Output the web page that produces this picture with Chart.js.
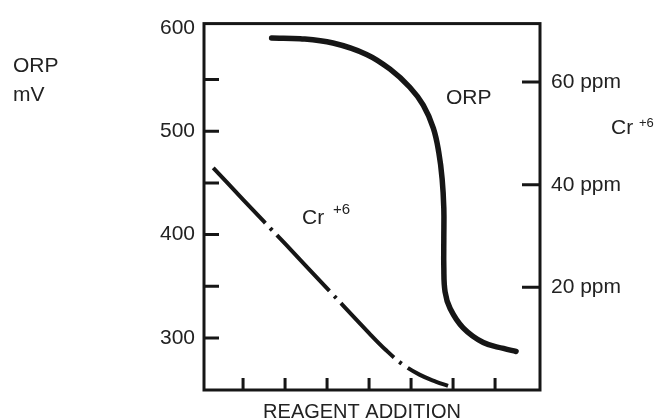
<!DOCTYPE html>
<html>
  <head>
    <title>ORP and Cr+6 vs reagent addition</title>
    <script src="https://cdn.jsdelivr.net/npm/chart.js"></script>
    <style>
      body {
        margin: 0;
        background: #fff;
      }
    </style>
  </head>
  <body>
    <canvas id="myChart" width="663" height="420"></canvas>
    <script>
      // ORP curve (mV, left axis) against reagent addition
      const orpX = [1.68, 2.36, 3.14, 3.94, 4.5, 4.97, 5.29, 5.53, 5.66, 5.74, 5.78, 5.78, 5.78, 5.81, 5.93, 6.24, 6.72, 7.2, 7.5];
      const orpY = [590.2, 589.6, 585.4, 574.4, 560.1, 542.6, 525.3, 503.1, 479.6, 453.9, 425.4, 396.8, 368.3, 344.6, 328.4, 309.7, 295.5, 289.8, 286.9];

      // Cr+6 concentration (ppm, right axis)
      const crX = [0.29, 1.0, 2.0, 3.0, 4.0, 4.4, 4.8, 5.2, 5.6, 5.88];
      const crY = [43.3, 37.1, 28.5, 19.8, 11.1, 7.8, 5.0, 3.0, 1.6, 0.8];

      // tick marks and labels
      const xMarks = [1, 2, 3, 4, 5, 6, 7];
      const leftMarks = [300, 350, 400, 450, 500, 550];
      const leftLabels = [300, 400, 500, 600];
      const rightMarks = [20, 40, 60];

      const font = "'Liberation Sans', Arial, sans-serif";
      const ink = "#161616";

      const toPoints = (xs, ys) => xs.map((x, i) => ({ x: x, y: ys[i] }));

      // frame, inward ticks and the free text
      const framePlugin = {
        id: "frame",
        afterDraw(chart) {
          const { ctx, chartArea: a, scales } = chart;
          ctx.save();
          ctx.strokeStyle = ink;
          ctx.lineWidth = 3;
          ctx.strokeRect(a.left, a.top, a.right - a.left, a.bottom - a.top);

          ctx.beginPath();
          leftMarks.forEach((v) => {
            const y = scales.y.getPixelForValue(v);
            ctx.moveTo(a.left, y);
            ctx.lineTo(a.left + 15, y);
          });
          rightMarks.forEach((v) => {
            const y = scales.y2.getPixelForValue(v);
            ctx.moveTo(a.right - 18, y);
            ctx.lineTo(a.right, y);
          });
          xMarks.forEach((v) => {
            const x = scales.x.getPixelForValue(v);
            ctx.moveTo(x, a.bottom);
            ctx.lineTo(x, a.bottom - 12);
          });
          ctx.stroke();

          ctx.fillStyle = "#222";
          ctx.textBaseline = "alphabetic";
          ctx.textAlign = "left";
          ctx.font = "21px " + font;
          ctx.fillText("ORP", 13, 72);
          ctx.fillText("mV", 13, 101);
          ctx.fillText("ORP", 446, 104);
          ctx.fillText("Cr", 302, 224);
          ctx.fillText("Cr", 611, 134);
          ctx.font = "15px " + font;
          ctx.fillText("+6", 333, 214);
          ctx.font = "13px " + font;
          ctx.fillText("+6", 639, 127);

          ctx.font = "20px " + font;
          ctx.textAlign = "center";
          ctx.fillText("REAGENT ADDITION", 362, 418);
          ctx.restore();
        },
      };

      const ctx = document.getElementById("myChart").getContext("2d");
      new Chart(ctx, {
        type: "line",
        data: {
          datasets: [
            {
              label: "ORP",
              data: toPoints(orpX, orpY),
              yAxisID: "y",
              borderColor: ink,
              borderWidth: 5.5,
              borderCapStyle: "round",
              pointRadius: 0,
              tension: 0.4,
            },
            {
              label: "Cr +6",
              data: toPoints(crX, crY),
              yAxisID: "y2",
              borderColor: ink,
              borderWidth: 4,
              borderDash: [76, 7, 3, 7],
              pointRadius: 0,
              tension: 0.4,
            },
          ],
        },
        options: {
          responsive: false,
          animation: false,
          layout: { padding: { top: 17, left: 0, right: 0, bottom: 0 } },
          plugins: {
            legend: { display: false },
            tooltip: { enabled: false },
          },
          scales: {
            x: {
              type: "linear",
              min: 0.07,
              max: 8.07,
              grid: { display: false },
              border: { display: false },
              ticks: { display: false },
              afterFit: (s) => {
                s.height = 30;
              },
            },
            y: {
              position: "left",
              min: 249.6,
              max: 604.2,
              grid: { display: false, drawTicks: false },
              border: { display: false },
              afterBuildTicks: (s) => {
                s.ticks = leftLabels.map((v) => ({ value: v }));
              },
              ticks: {
                padding: 9,
                color: "#222",
                font: { family: font, size: 21 },
              },
              afterFit: (s) => {
                s.width = 204;
              },
            },
            y2: {
              position: "right",
              min: 0,
              max: 71.4,
              grid: { display: false, drawTicks: false },
              border: { display: false },
              afterBuildTicks: (s) => {
                s.ticks = rightMarks.map((v) => ({ value: v }));
              },
              ticks: {
                padding: 11,
                color: "#222",
                font: { family: font, size: 21 },
                callback: (v) => v + " ppm",
              },
              afterFit: (s) => {
                s.width = 123;
              },
            },
          },
        },
        plugins: [framePlugin],
      });
    </script>
  </body>
</html>
